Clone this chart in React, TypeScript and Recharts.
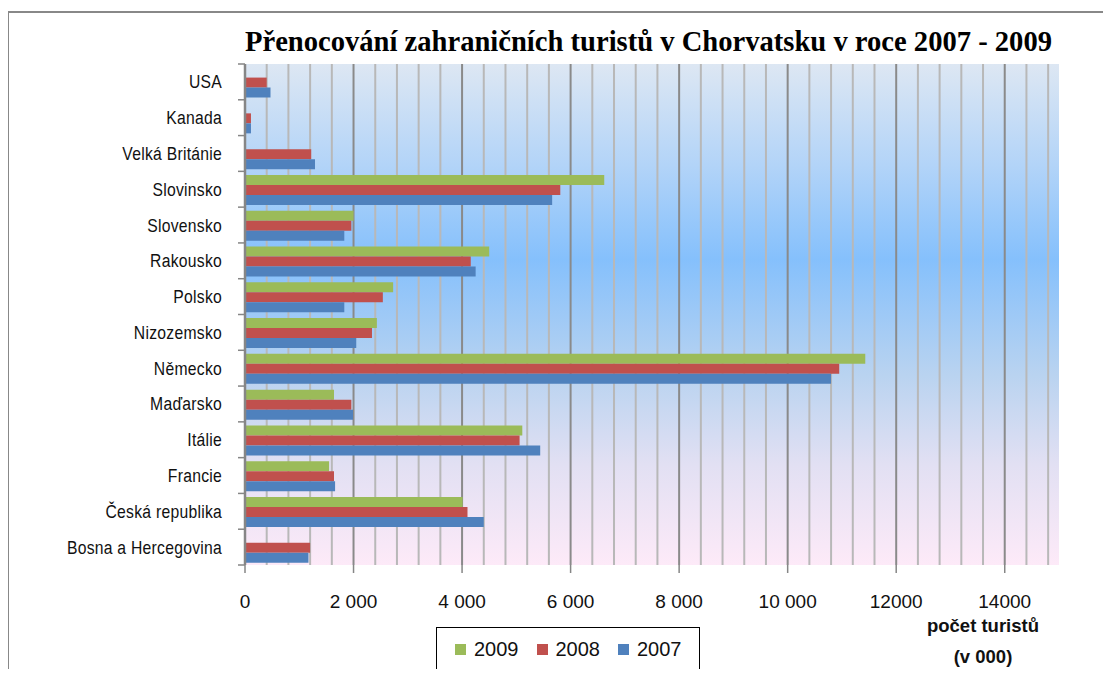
import { BarChart, Bar, XAxis, YAxis, CartesianGrid } from 'recharts';

const countries = [
  'USA',
  'Kanada',
  'Velká Británie',
  'Slovinsko',
  'Slovensko',
  'Rakousko',
  'Polsko',
  'Nizozemsko',
  'Německo',
  'Maďarsko',
  'Itálie',
  'Francie',
  'Česká republika',
  'Bosna a Hercegovina',
];

const values2009 = [0, 0, 0, 6620, 2000, 4500, 2730, 2430, 11430, 1640, 5110, 1550, 4010, 0];
const values2008 = [400, 110, 1220, 5810, 1960, 4160, 2540, 2340, 10950, 1960, 5060, 1640, 4100, 1200];
const values2007 = [470, 110, 1290, 5660, 1830, 4250, 1830, 2050, 10800, 1990, 5440, 1660, 4400, 1170];

const xTicks = [0, 2000, 4000, 6000, 8000, 10000, 12000, 14000];
const xTickLabels = ['0', '2 000', '4 000', '6 000', '8 000', '10 000', '12000', '14000'];

const series = [
  { key: 'y2009', name: '2009', color: '#9BBB59' },
  { key: 'y2008', name: '2008', color: '#C0504D' },
  { key: 'y2007', name: '2007', color: '#4F81BD' },
];

const data = countries.map((country, i) => ({
  country,
  y2009: values2009[i],
  y2008: values2008[i],
  y2007: values2007[i],
}));

const X_MAX = 15000;
// light grid every 400, darker one every 2000
const minorGrid: number[] = [];
const majorGrid: number[] = [];
for (let v = 400; v < X_MAX; v += 400) (v % 2000 === 0 ? majorGrid : minorGrid).push(v);

const PLOT_TOP = 64;
const PLOT_HEIGHT = 501;
const BAND = PLOT_HEIGHT / countries.length;

const labelFont = '"Liberation Sans", Arial, sans-serif';

function gridGen(values: number[]) {
  return (args: any) => {
    const xAxis = args?.xAxis;
    const off = args?.offset ?? {};
    return values.map((v) =>
      xAxis && typeof xAxis.scale === 'function'
        ? xAxis.scale(v)
        : off.left + (v / X_MAX) * off.width
    );
  };
}

function CountryTick(props: any) {
  const { y, payload, index } = props;
  const top = y - BAND / 2;
  return (
    <g>
      <line x1={238} x2={245} y1={top} y2={top} stroke="#868686" strokeWidth={1.5} />
      {index === countries.length - 1 && (
        <line x1={238} x2={245} y1={top + BAND} y2={top + BAND} stroke="#868686" strokeWidth={1.5} />
      )}
      {/* squeeze horizontally to get the tall, narrow look of the original labels */}
      <text
        transform={`translate(222, ${y + 6.5}) scale(0.85, 1)`}
        x={0}
        y={0}
        textAnchor="end"
        fontSize={18.5}
        letterSpacing={0.3}
        fontFamily={labelFont}
        fill="#111"
      >
        {payload.value}
      </text>
    </g>
  );
}

function LegendBox() {
  return (
    <div
      style={{
        position: 'absolute',
        left: 436,
        top: 627,
        width: 264,
        height: 45,
        border: '1px solid #000',
        background: '#fff',
        display: 'flex',
        alignItems: 'center',
        fontFamily: labelFont,
        fontSize: 20,
        color: '#111',
        boxSizing: 'border-box',
      }}
    >
      {series.map((s) => (
        <div key={s.key} style={{ display: 'flex', alignItems: 'center', marginLeft: 18 }}>
          <div style={{ width: 11, height: 11, background: s.color, marginRight: 8 }} />
          <span>{s.name}</span>
        </div>
      ))}
    </div>
  );
}

export default function App() {
  return (
    <div style={{ position: 'relative', width: 1111, height: 677, margin: -8, background: '#fff', overflow: 'hidden' }}>
      <svg width={0} height={0} style={{ position: 'absolute' }}>
        <defs>
          <linearGradient id="plotBg" x1="0" y1="0" x2="0" y2="1">
            <stop offset="0%" stopColor="#dde7f3" />
            <stop offset="20%" stopColor="#b3d4f8" />
            <stop offset="39%" stopColor="#85c0fc" />
            <stop offset="62%" stopColor="#b9d3f0" />
            <stop offset="80%" stopColor="#e2e0f3" />
            <stop offset="100%" stopColor="#fdeaf8" />
          </linearGradient>
        </defs>
      </svg>

      {/* outer frame */}
      <div
        style={{
          position: 'absolute',
          left: 7,
          top: 11,
          width: 1120,
          height: 700,
          borderLeft: '2px solid #888',
          borderTop: '2px solid #888',
        }}
      />

      <svg width={1111} height={60} style={{ position: 'absolute', left: 0, top: 0 }}>
        <text
          x={245}
          y={51}
          textLength={807}
          lengthAdjust="spacingAndGlyphs"
          fontFamily='"Liberation Serif", "Times New Roman", serif'
          fontWeight="bold"
          fontSize={29}
          fill="#000"
        >
          Přenocování zahraničních turistů v Chorvatsku v roce 2007 - 2009
        </text>
      </svg>

      <div style={{ position: 'absolute', left: 0, top: 0 }}>
        <BarChart
          width={1111}
          height={677}
          data={data}
          layout="vertical"
          margin={{ top: PLOT_TOP, right: 52, bottom: 677 - PLOT_TOP - PLOT_HEIGHT - 30, left: 0 }}
          barCategoryGap="10%"
          barGap={0}
        >
          <CartesianGrid
            horizontal={false}
            fill="url(#plotBg)"
            fillOpacity={1}
            stroke="#b8b8b8"
            strokeWidth={2}
            verticalCoordinatesGenerator={gridGen(minorGrid)}
          />
          <CartesianGrid
            horizontal={false}
            stroke="#8a8a8a"
            strokeWidth={2}
            verticalCoordinatesGenerator={gridGen(majorGrid)}
          />
          <XAxis
            type="number"
            domain={[0, X_MAX]}
            ticks={xTicks}
            tickFormatter={(v: number) => xTickLabels[xTicks.indexOf(v)]}
            axisLine={false}
            tickLine={{ stroke: '#868686', strokeWidth: 1.5 }}
            tickSize={8}
            tickMargin={22}
            height={30}
            interval={0}
            tick={{ fontSize: 19, fontFamily: labelFont, fill: '#111' }}
          />
          <YAxis
            type="category"
            dataKey="country"
            width={245}
            interval={0}
            axisLine={{ stroke: '#868686', strokeWidth: 2.5 }}
            tickLine={false}
            tick={<CountryTick />}
          />
          {series.map((s) => (
            <Bar key={s.key} dataKey={s.key} name={s.name} fill={s.color} isAnimationActive={false} />
          ))}
        </BarChart>
      </div>

      <LegendBox />

      <div
        style={{
          position: 'absolute',
          left: 902,
          top: 610,
          width: 162,
          textAlign: 'center',
          fontFamily: labelFont,
          fontWeight: 'bold',
          fontSize: 18.5,
          color: '#111',
          lineHeight: '31px',
        }}
      >
        <div>počet turistů</div>
        <div>(v 000)</div>
      </div>
    </div>
  );
}
